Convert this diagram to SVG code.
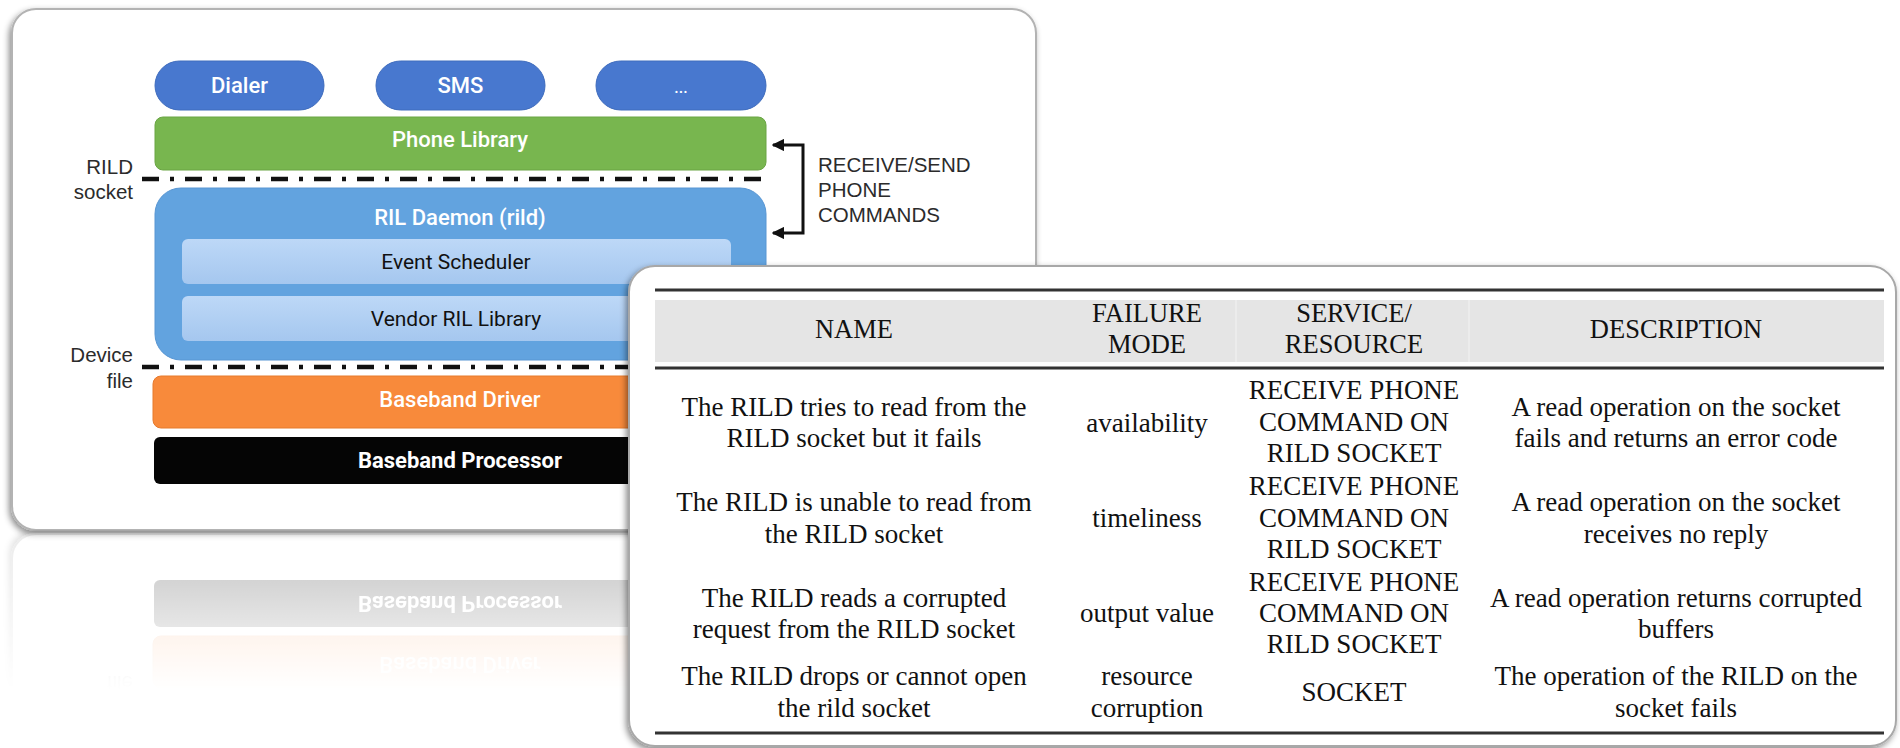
<svg xmlns="http://www.w3.org/2000/svg" xmlns:xlink="http://www.w3.org/1999/xlink" width="1900" height="748" viewBox="0 0 1900 748">
  <style>
    .lbl { font-family: Roboto, "Liberation Sans", sans-serif; font-size: 22px; text-anchor: middle; }
    .wht { fill: #ffffff; font-weight: 500; }
    .blk { fill: #111111; }
    .side { font-family: "Liberation Sans", Arial, sans-serif; font-size: 20.5px; fill: #2b2b2b; }
    .sep { stroke: #111; stroke-width: 4.5; stroke-dasharray: 17 11 4 11; fill: none; }
    .tb { font-family: "Liberation Serif", "Times New Roman", serif; font-size: 27px; fill: #111; text-anchor: middle; }
    .th { font-size: 26.5px; }
    .rule { stroke: #333; fill: none; }
  </style>
  <defs>
    <linearGradient id="inner" x1="0" y1="0" x2="0" y2="1">
      <stop offset="0" stop-color="#bdd8f7"/>
      <stop offset="1" stop-color="#a5c7ef"/>
    </linearGradient>
    <linearGradient id="fadeG" gradientUnits="userSpaceOnUse" x1="0" y1="534" x2="0" y2="690">
      <stop offset="0" stop-color="#fff" stop-opacity="0.25"/>
      <stop offset="1" stop-color="#fff" stop-opacity="0"/>
    </linearGradient>
    <mask id="fade" maskUnits="userSpaceOnUse" x="0" y="530" width="1100" height="218">
      <rect x="0" y="530" width="1100" height="218" fill="url(#fadeG)"/>
    </mask>
    <filter id="shadow" x="-5%" y="-5%" width="110%" height="115%">
      <feDropShadow dx="-2" dy="3" stdDeviation="3" flood-color="#000" flood-opacity="0.45"/>
    </filter>
    <marker id="ah" viewBox="0 0 10 10" refX="9" refY="5" markerWidth="4.2" markerHeight="4.2" orient="auto-start-reverse" markerUnits="strokeWidth">
      <path d="M0,0 L10,5 L0,10 z" fill="#111"/>
    </marker>
  </defs>

  <rect width="1900" height="748" fill="#ffffff"/>

  <!-- Left architecture panel -->
  <g id="left-panel">
    <rect id="panel-bg" x="12" y="9" width="1024" height="521" rx="24" fill="#ffffff" stroke="#b3b3b3" stroke-width="2" filter="url(#shadow)"/>

    <g id="node-dialer">
      <rect x="155" y="61" width="169" height="49" rx="24.5" fill="#4878cf" stroke="#3f6cbd" stroke-width="1"/>
      <text class="lbl wht" x="239.5" y="93">Dialer</text>
    </g>
    <g id="node-sms">
      <rect x="376" y="61" width="169" height="49" rx="24.5" fill="#4878cf" stroke="#3f6cbd" stroke-width="1"/>
      <text class="lbl wht" x="460.5" y="93">SMS</text>
    </g>
    <g id="node-more">
      <rect x="596" y="61" width="170" height="49" rx="24.5" fill="#4878cf" stroke="#3f6cbd" stroke-width="1"/>
      <text class="lbl wht" x="681" y="93" style="font-size:16px">...</text>
    </g>
    <g id="node-phone-library">
      <rect x="155" y="117" width="611" height="53" rx="8" fill="#78b64f" stroke="#6aa544" stroke-width="1"/>
      <text class="lbl wht" x="460" y="147">Phone Library</text>
    </g>
    <g id="node-ril-daemon">
      <rect x="155" y="188" width="611" height="172" rx="26" fill="#62a3df" stroke="#5896d3" stroke-width="1"/>
      <text class="lbl wht" x="460" y="225">RIL Daemon (rild)</text>
    </g>
    <g id="node-event-scheduler">
      <rect x="182" y="239" width="549" height="45" rx="6" fill="url(#inner)"/>
      <text class="lbl blk" x="456" y="269" style="font-size:21px">Event Scheduler</text>
    </g>
    <g id="node-vendor-ril">
      <rect x="182" y="296" width="549" height="45" rx="6" fill="url(#inner)"/>
      <text class="lbl blk" x="456" y="326" style="font-size:21px">Vendor RIL Library</text>
    </g>
    <g id="node-baseband-driver">
      <rect x="153" y="376" width="613" height="52" rx="8" fill="#f88a3b" stroke="#e67a2d" stroke-width="1"/>
      <text class="lbl wht" x="460" y="407">Baseband Driver</text>
    </g>
    <g id="node-baseband-processor">
      <rect x="154" y="437" width="612" height="47" rx="6" fill="#050505"/>
      <text class="lbl wht" x="460" y="468" style="font-weight:700">Baseband Processor</text>
    </g>

    <g id="boundaries">
      <line class="sep" x1="142" y1="179" x2="766" y2="179"/>
      <line class="sep" x1="142" y1="367" x2="766" y2="367"/>
      <text class="side" x="133" y="174" text-anchor="end">RILD</text>
      <text class="side" x="133" y="199" text-anchor="end">socket</text>
      <text class="side" x="133" y="362" text-anchor="end">Device</text>
      <text class="side" x="133" y="388" text-anchor="end">file</text>
    </g>

    <g id="connectors">
      <path d="M773,145 H803 V233 H773" fill="none" stroke="#111" stroke-width="3" marker-start="url(#ah)" marker-end="url(#ah)"/>
    </g>
    <g id="label-commands">
      <text class="side" x="818" y="172">RECEIVE/SEND</text>
      <text class="side" x="818" y="197">PHONE</text>
      <text class="side" x="818" y="222">COMMANDS</text>
    </g>
  </g>

  <!-- Reflection -->
  <g id="reflection" mask="url(#fade)">
    <use xlink:href="#left-panel" href="#left-panel" transform="translate(0,1064) scale(1,-1)"/>
  </g>

  <!-- Table panel -->
  <g id="table-panel">
    <rect x="629" y="266" width="1267" height="480" rx="26" fill="#ffffff" stroke="#a8a8a8" stroke-width="2" filter="url(#shadow)"/>
    <rect x="655" y="300" width="1229" height="62" fill="#e5e5e5"/>
    <line x1="1236" y1="300" x2="1236" y2="362" stroke="#ececec" stroke-width="2"/>
    <line x1="1469" y1="300" x2="1469" y2="362" stroke="#ececec" stroke-width="2"/>
    <line class="rule" x1="655" y1="290" x2="1884" y2="290" stroke-width="3"/>
    <line class="rule" x1="655" y1="368" x2="1884" y2="368" stroke-width="3"/>
    <line class="rule" x1="655" y1="733" x2="1884" y2="733" stroke-width="3"/>

    <g id="table-header">
      <text class="tb th" x="854" y="338">NAME</text>
      <text class="tb th" x="1147" y="322">FAILURE</text>
      <text class="tb th" x="1147" y="353">MODE</text>
      <text class="tb th" x="1354" y="322">SERVICE/</text>
      <text class="tb th" x="1354" y="353">RESOURCE</text>
      <text class="tb th" x="1676" y="338">DESCRIPTION</text>
    </g>

    <g id="row1">
      <text class="tb" x="854" y="416">The RILD tries to read from the</text>
      <text class="tb" x="854" y="447">RILD socket but it fails</text>
      <text class="tb" x="1147" y="432">availability</text>
      <text class="tb" x="1354" y="399">RECEIVE PHONE</text>
      <text class="tb" x="1354" y="431">COMMAND ON</text>
      <text class="tb" x="1354" y="462">RILD SOCKET</text>
      <text class="tb" x="1676" y="416">A read operation on the socket</text>
      <text class="tb" x="1676" y="447">fails and returns an error code</text>
    </g>
    <g id="row2">
      <text class="tb" x="854" y="511">The RILD is unable to read from</text>
      <text class="tb" x="854" y="543">the RILD socket</text>
      <text class="tb" x="1147" y="527">timeliness</text>
      <text class="tb" x="1354" y="495">RECEIVE PHONE</text>
      <text class="tb" x="1354" y="527">COMMAND ON</text>
      <text class="tb" x="1354" y="558">RILD SOCKET</text>
      <text class="tb" x="1676" y="511">A read operation on the socket</text>
      <text class="tb" x="1676" y="543">receives no reply</text>
    </g>
    <g id="row3">
      <text class="tb" x="854" y="607">The RILD reads a corrupted</text>
      <text class="tb" x="854" y="638">request from the RILD socket</text>
      <text class="tb" x="1147" y="622">output value</text>
      <text class="tb" x="1354" y="591">RECEIVE PHONE</text>
      <text class="tb" x="1354" y="622">COMMAND ON</text>
      <text class="tb" x="1354" y="653">RILD SOCKET</text>
      <text class="tb" x="1676" y="607">A read operation returns corrupted</text>
      <text class="tb" x="1676" y="638">buffers</text>
    </g>
    <g id="row4">
      <text class="tb" x="854" y="685">The RILD drops or cannot open</text>
      <text class="tb" x="854" y="717">the rild socket</text>
      <text class="tb" x="1147" y="685">resource</text>
      <text class="tb" x="1147" y="717">corruption</text>
      <text class="tb" x="1354" y="701">SOCKET</text>
      <text class="tb" x="1676" y="685">The operation of the RILD on the</text>
      <text class="tb" x="1676" y="717">socket fails</text>
    </g>
  </g>
</svg>
